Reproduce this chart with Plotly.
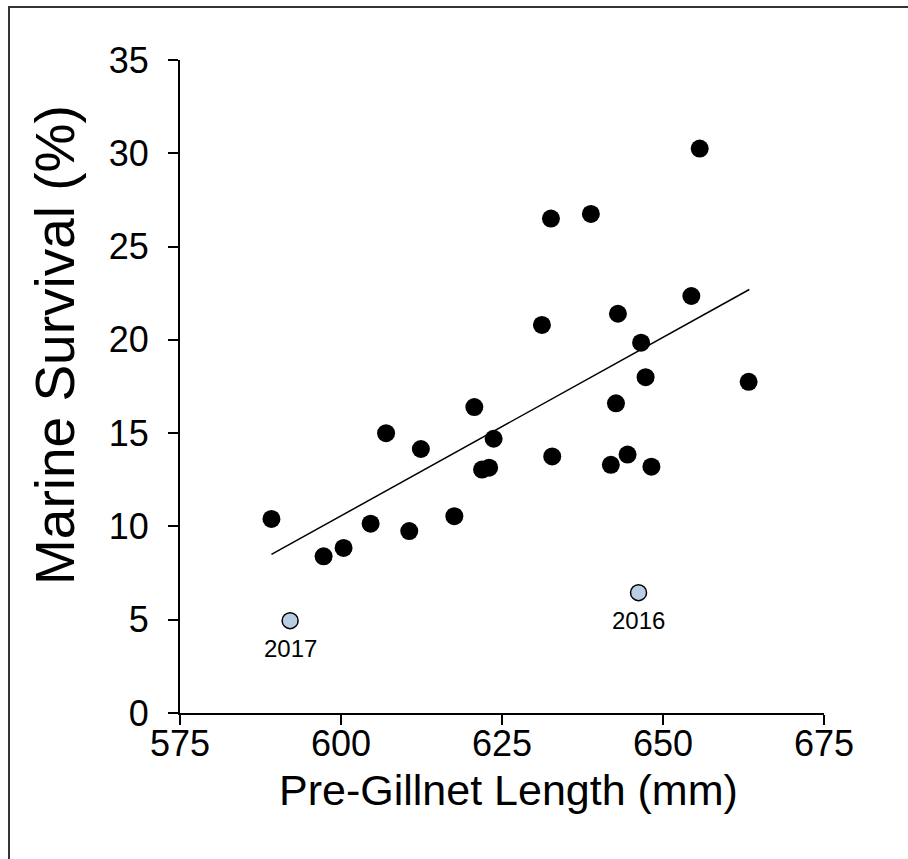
import plotly.graph_objects as go

# Main series (black points)
length_mm = [589.2, 597.3, 600.4, 604.6, 607.0, 610.6, 612.4, 617.6, 620.7, 621.9,
             623.0, 623.7, 631.2, 632.6, 632.8, 638.8, 641.9, 642.7, 643.0, 644.5,
             646.6, 647.3, 648.2, 654.4, 655.7, 663.3]
survival_pct = [10.4, 8.4, 8.85, 10.15, 15.0, 9.75, 14.15, 10.55, 16.4, 13.05,
                13.15, 14.7, 20.8, 26.5, 13.75, 26.75, 13.3, 16.6, 21.4, 13.85,
                19.85, 18.0, 13.2, 22.35, 30.25, 17.75]

# Highlighted years (light blue points)
hl_years = ["2017", "2016"]
hl_length = [592.1, 646.2]
hl_survival = [4.95, 6.45]

# Trendline end points
trend_x = [589.2, 663.4]
trend_y = [8.5, 22.7]

x_ticks = [575, 600, 625, 650, 675]
y_ticks = [0, 5, 10, 15, 20, 25, 30, 35]

x_title = "Pre-Gillnet Length (mm)"
y_title = "Marine Survival (%)"

FONT = "Liberation Sans, Arial, sans-serif"

fig = go.Figure()
fig.add_trace(go.Scatter(x=trend_x, y=trend_y, mode="lines",
                         line=dict(color="black", width=1.5), hoverinfo="skip"))
fig.add_trace(go.Scatter(x=length_mm, y=survival_pct, mode="markers",
                         marker=dict(color="black", size=18, line=dict(width=0))))
fig.add_trace(go.Scatter(x=hl_length, y=hl_survival, mode="markers",
                         marker=dict(color="#b9cde5", size=16,
                                     line=dict(color="black", width=1.5))))

for yr, xv, yv in zip(hl_years, hl_length, hl_survival):
    fig.add_annotation(x=xv, y=yv, text=yr, showarrow=False, yshift=-28,
                       font=dict(family=FONT, size=24, color="black"))

axis_common = dict(showgrid=False, zeroline=False, showline=True, linecolor="black",
                   linewidth=2, ticks="outside", ticklen=10, tickwidth=2,
                   tickcolor="black", tickfont=dict(family=FONT, size=36, color="black"))

fig.update_xaxes(range=[575, 675], tickvals=x_ticks, ticklabelstandoff=-12, **axis_common)
fig.update_yaxes(range=[0, 35], tickvals=y_ticks, ticklabelstandoff=12, **axis_common)

# Axis titles as annotations for precise placement
fig.add_annotation(xref="paper", yref="paper", x=(508 - 180) / 644, y=(713 - 790) / 653,
                   text=x_title, showarrow=False, xanchor="center", yanchor="middle",
                   font=dict(family=FONT, size=43, color="black"))
fig.add_annotation(xref="paper", yref="paper", x=(55 - 180) / 644, y=(713 - 345) / 653,
                   text=y_title, showarrow=False, textangle=-90, xanchor="center",
                   yanchor="middle", font=dict(family=FONT, size=55, color="black"))

fig.add_shape(type="rect", xref="paper", yref="paper",
              x0=(9 - 180) / 644, x1=1.3, y0=-0.4, y1=(713 - 7) / 653,
              line=dict(color="#333333", width=2), layer="below")

fig.update_layout(width=908, height=859, margin=dict(l=180, r=84, t=60, b=146),
                  paper_bgcolor="white", plot_bgcolor="white", showlegend=False,
                  font=dict(family=FONT))
fig.write_html("out.html")
